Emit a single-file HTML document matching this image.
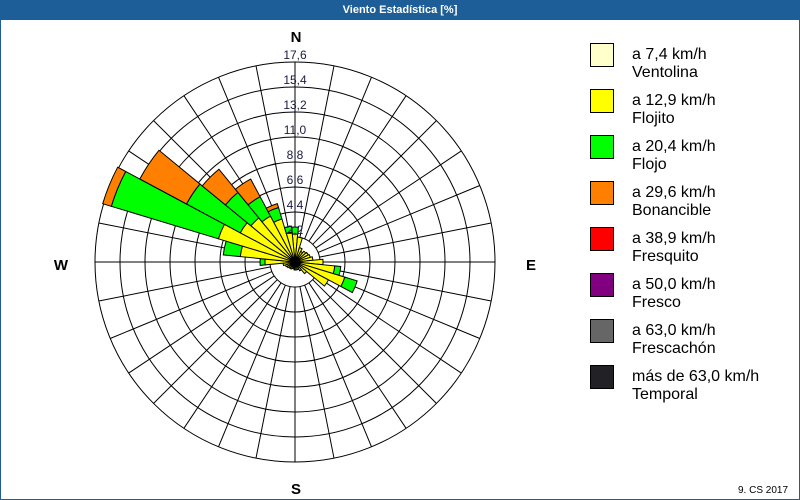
<!DOCTYPE html>
<html><head><meta charset="utf-8"><style>
html,body{margin:0;padding:0;background:#fff}
body{width:800px;height:500px;overflow:hidden;position:relative;font-family:"Liberation Sans",sans-serif}
#t{position:absolute;left:0;top:0;width:800px;height:20px;background:#1e5e98;color:#fff;font-weight:bold;font-size:11px;line-height:20px;text-align:center}
#f{position:absolute;left:0;top:20px;width:798px;height:479px;border:1px solid #1e5e98;border-top:none}
.lg{position:absolute;left:590px;width:22px;height:22px;border:1px solid #000}
.lt{position:absolute;left:632px;font-size:16px;line-height:18px;color:#000}
</style></head><body>
<div id="t">Viento Estadística [%]</div>
<div id="f"></div>
<svg id="s" width="800" height="500" style="position:absolute;left:0;top:0"></svg>
<div class="lg" style="top:43px;background:#ffffcc"></div><div class="lt" style="top:46px">a 7,4 km/h<br>Ventolina</div>
<div class="lg" style="top:89px;background:#ffff00"></div><div class="lt" style="top:92px">a 12,9 km/h<br>Flojito</div>
<div class="lg" style="top:135px;background:#00ff00"></div><div class="lt" style="top:138px">a 20,4 km/h<br>Flojo</div>
<div class="lg" style="top:181px;background:#ff8000"></div><div class="lt" style="top:184px">a 29,6 km/h<br>Bonancible</div>
<div class="lg" style="top:227px;background:#ff0000"></div><div class="lt" style="top:230px">a 38,9 km/h<br>Fresquito</div>
<div class="lg" style="top:273px;background:#800080"></div><div class="lt" style="top:276px">a 50,0 km/h<br>Fresco</div>
<div class="lg" style="top:319px;background:#666666"></div><div class="lt" style="top:322px">a 63,0 km/h<br>Frescachón</div>
<div class="lg" style="top:365px;background:#222226"></div><div class="lt" style="top:368px">más de 63,0 km/h<br>Temporal</div>
<div style="position:absolute;left:738px;top:485px;font-size:10px;color:#000">9. CS 2017</div>
<script>
var s=document.getElementById('s'),cx=295,cy=262,h='';
function P(a,r){var t=a*Math.PI/180;return [(cx+r*Math.sin(t)).toFixed(1),(cy-r*Math.cos(t)).toFixed(1)];}
for(var k=1;k<=8;k++)h+='<circle cx="'+cx+'" cy="'+cy+'" r="'+(25*k)+'" fill="none" stroke="#000" stroke-width="1"/>';
for(var i=0;i<32;i++){var a=P(i*11.25,25),b=P(i*11.25,200);h+='<line x1="'+a[0]+'" y1="'+a[1]+'" x2="'+b[0]+'" y2="'+b[1]+'" stroke="#000"/>';}
function W(c,r0,r1,col){if(r1<=r0)return;var a0=c-5.625,a1=c+5.625,p=P(a0,r0),q=P(a0,r1),u=P(a1,r1),v=P(a1,r0);
h+='<path d="M'+p+' L'+q+' A'+r1+' '+r1+' 0 0 1 '+u+' L'+v+(r0>0?' A'+r0+' '+r0+' 0 0 0 '+p:'')+'Z" fill="'+col+'" stroke="#000" stroke-width="1"/>';}
var d=[[0,28,35,0],[11.25,25,25,0],[22.5,15,15,0],[33.75,12,12,0],[45,14,14,0],[56.25,15,15,0],[67.5,16,16,0],[78.75,18,18,0],[90,28,28,0],[101.25,40,46,0],[112.5,52,65,0],[123.75,38,38,0],[135,15,15,0],[146.25,10,10,0],[157.5,8,8,0],[168.75,8,8,0],[180,8,8,0],[191.25,7,7,0],[202.5,7,7,0],[213.75,8,8,0],[225,8,8,0],[236.25,9,9,0],[247.5,10,10,0],[258.75,12,12,0],[270,30,35,0],[281.25,55,72,0],[292.5,80,192,201],[303.75,62,123,176],[315,57,90,120],[326.25,52,74,94],[337.5,45,57,61],[348.75,30,36,0]];
d.forEach(function(e){W(e[0],0,4,'#ffffcc');W(e[0],4,e[1],'#ffff00');W(e[0],e[1],e[2],'#00ff00');if(e[3])W(e[0],e[2],e[3],'#ff8000');});
var L=['2,2','4,4','6,6','8,8','11,0','13,2','15,4','17,6'];
for(var k=1;k<=8;k++)h+='<text x="'+cx+'" y="'+(cy-25*k-3)+'" font-size="12" text-anchor="middle" fill="#1a1a40" font-family="Liberation Sans, sans-serif">'+L[k-1]+'</text>';
var st='font-size="15" font-weight="bold" text-anchor="middle" fill="#000" font-family="Liberation Sans, sans-serif"';
h+='<text x="296" y="42" '+st+'>N</text><text x="531" y="270" '+st+'>E</text><text x="61" y="270" '+st+'>W</text><text x="296" y="494" '+st+'>S</text>';
s.innerHTML=h;
</script>
</body></html>
